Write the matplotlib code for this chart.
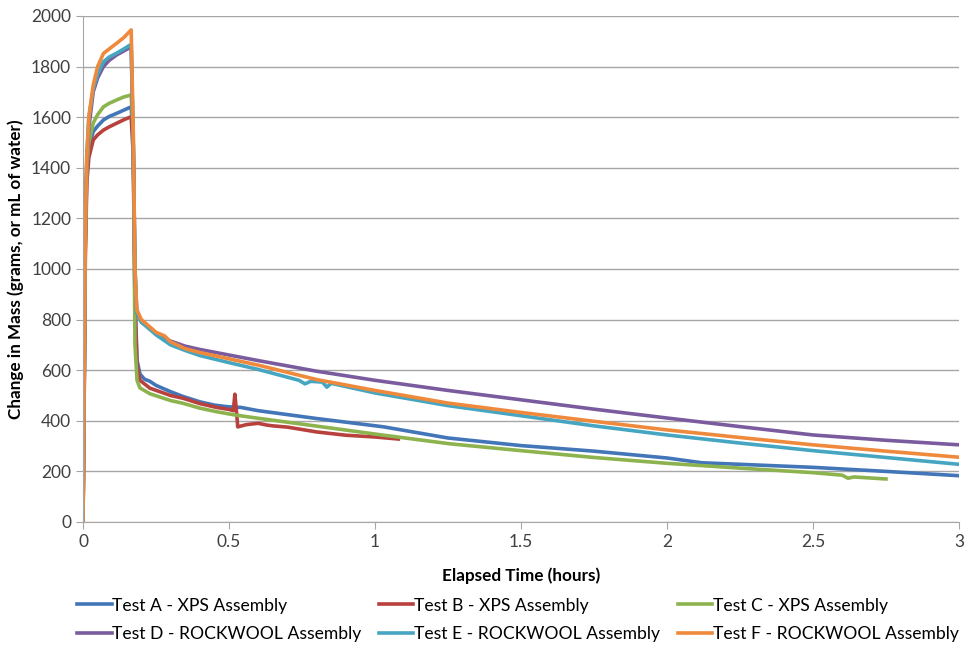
import matplotlib
matplotlib.use('Agg')
import matplotlib.pyplot as plt

plt.rcParams['font.family'] = ['Lato', 'DejaVu Sans']

# shared rise / peak times (hours)
t_rise = [0, 0.004, 0.008, 0.013, 0.02, 0.035, 0.05, 0.07, 0.09, 0.115, 0.14, 0.165]

rise_a = [0, 500, 1100, 1380, 1480, 1543, 1565, 1589, 1603, 1615, 1628, 1641]
rise_b = [0, 480, 1050, 1340, 1440, 1510, 1530, 1549, 1562, 1576, 1590, 1602]
rise_c = [0, 520, 1120, 1400, 1500, 1577, 1610, 1641, 1655, 1668, 1680, 1688]
rise_d = [0, 550, 1150, 1420, 1560, 1700, 1755, 1800, 1825, 1846, 1862, 1878]
rise_e = [0, 560, 1180, 1450, 1600, 1712, 1770, 1819, 1838, 1853, 1870, 1888]
rise_f = [0, 540, 1150, 1440, 1600, 1727, 1800, 1852, 1870, 1892, 1915, 1945]

# drainage part of each test
t_a = [0.172, 0.178, 0.185, 0.195, 0.21, 0.229, 0.25, 0.3, 0.343, 0.4, 0.45, 0.5, 0.54,
       0.6, 0.8, 1.03, 1.25, 1.5, 1.75, 2.0, 2.12, 2.25, 2.5, 2.75, 3.0]
m_a = [1500, 900, 640, 585, 565, 556, 540, 515, 496, 475, 462, 455, 453,
       440, 409, 376, 332, 302, 280, 253, 234, 228, 216, 200, 183]

t_b = [0.172, 0.178, 0.185, 0.195, 0.229, 0.3, 0.343, 0.4, 0.457, 0.5, 0.515, 0.52,
       0.525, 0.53, 0.56, 0.6, 0.63, 0.65, 0.7, 0.8, 0.9, 1.0, 1.08]
m_b = [1450, 850, 620, 560, 529, 500, 489, 468, 453, 445, 440, 505,
       445, 376, 385, 390, 383, 380, 375, 356, 343, 336, 328]

t_c = [0.172, 0.178, 0.185, 0.195, 0.229, 0.3, 0.343, 0.4, 0.457, 0.52, 0.6, 0.8,
       1.03, 1.257, 1.5, 1.75, 2.0, 2.25, 2.5, 2.6, 2.62, 2.64, 2.75]
m_c = [1550, 700, 560, 530, 507, 480, 469, 450, 436, 423, 410, 379,
       343, 309, 282, 255, 232, 213, 195, 185, 173, 178, 170]

t_d = [0.172, 0.178, 0.184, 0.2, 0.25, 0.3, 0.35, 0.4, 0.5, 0.6, 0.8, 1.0, 1.25,
       1.5, 1.75, 2.0, 2.25, 2.5, 2.75, 3.0]
m_d = [1500, 1000, 830, 790, 745, 715, 695, 682, 660, 638, 596, 560, 520,
       483, 446, 411, 377, 344, 323, 305]

t_e = [0.172, 0.178, 0.184, 0.2, 0.25, 0.3, 0.35, 0.4, 0.5, 0.6, 0.74, 0.76, 0.78,
       0.82, 0.835, 0.85, 1.0, 1.25, 1.5, 1.75, 2.0, 2.25, 2.5, 2.75, 3.0]
m_e = [1500, 1000, 830, 790, 740, 700, 678, 658, 630, 603, 560, 546, 556,
       553, 533, 548, 510, 460, 420, 380, 344, 312, 282, 255, 228]

t_f = [0.172, 0.178, 0.184, 0.2, 0.25, 0.28, 0.3, 0.35, 0.4, 0.5, 0.6, 0.8, 1.0, 1.25,
       1.5, 1.75, 2.0, 2.25, 2.5, 2.75, 3.0]
m_f = [1550, 1000, 840, 800, 750, 735, 712, 685, 670, 645, 620, 563, 520, 470,
       433, 398, 364, 334, 305, 280, 256]

labels = ['Test A - XPS Assembly', 'Test B - XPS Assembly', 'Test C - XPS Assembly',
          'Test D - ROCKWOOL Assembly', 'Test E - ROCKWOOL Assembly',
          'Test F - ROCKWOOL Assembly']
colors = ['#4376B8', '#B8413E', '#8DB34F', '#7A5C9E', '#46A6C2', '#EF8A3C']

series = [(t_a, rise_a, m_a), (t_b, rise_b, m_b), (t_c, rise_c, m_c),
          (t_d, rise_d, m_d), (t_e, rise_e, m_e), (t_f, rise_f, m_f)]

fig = plt.figure(figsize=(9.64, 6.45), dpi=100)
ax = fig.add_axes([0.0861, 0.1907, 0.9087, 0.7845])

lines = []
for (tt, rr, mm), lab, col in zip(series, labels, colors):
    ln, = ax.plot(t_rise + tt, rr + mm, color=col, lw=2.6, label=lab)
    lines.append(ln)

ax.set_xlim(0, 3)
ax.set_ylim(0, 2000)
ax.set_xticks([0, 0.5, 1, 1.5, 2, 2.5, 3])
ax.set_xticklabels(['0', '0.5', '1', '1.5', '2', '2.5', '3'])
ax.set_yticks(range(0, 2001, 200))
ax.grid(axis='y', color='#a6a6a6', lw=1)
ax.set_axisbelow(True)
for s in ['top', 'right']:
    ax.spines[s].set_visible(False)
for s in ['left', 'bottom']:
    ax.spines[s].set_color('#a6a6a6')
ax.tick_params(colors='#a6a6a6', labelcolor='#404040', labelsize=12.5, length=5)
ax.set_xlabel('Elapsed Time (hours)', fontsize=12.3, fontweight='bold', labelpad=13)
ax.set_ylabel('Change in Mass (grams, or mL of water)', fontsize=12.3, fontweight='bold', labelpad=5)

order = [0, 3, 1, 4, 2, 5]
fig.legend([lines[i] for i in order], [labels[i] for i in order], ncol=3,
           loc='lower left', bbox_to_anchor=(0.064, -0.02), frameon=False,
           fontsize=12.6, handlelength=1.95, handletextpad=0.05, columnspacing=1.0,
           labelspacing=0.72)

fig.savefig('out.png', dpi=100)
